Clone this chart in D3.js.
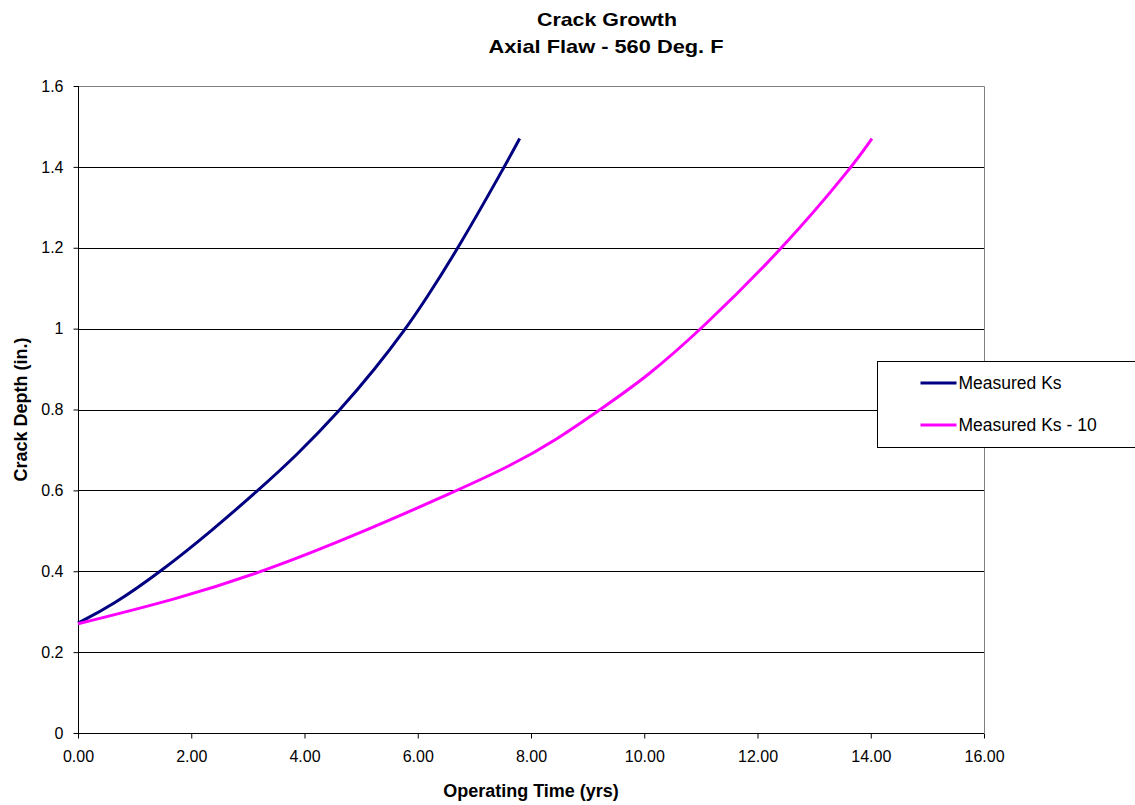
<!DOCTYPE html>
<html>
<head>
<meta charset="utf-8">
<script src="https://cdn.jsdelivr.net/npm/d3@7"></script>
<style>
    body { margin: 0; background: #fff; }
    svg { display: block; font-family: Arial, "Liberation Sans", sans-serif; }
</style>
</head>
<body>
<div class="content"></div>
<script>
// chart data
var seriesNames = ["Measured Ks", "Measured Ks - 10"];
var seriesColors = ["#000080", "#ff00ff"];
var ksYears = [0, 0.6, 1.47, 2.36, 3.18, 3.85, 4.64, 5.245, 5.79, 6.13, 6.72, 7.53, 7.8];
var ksDepth = [0.272, 0.315, 0.40, 0.50, 0.60, 0.685, 0.80, 0.90, 1.00, 1.07, 1.20, 1.40, 1.47];
var ks10Years = [0, 1.77, 3.3, 5.0, 6.7, 7.63, 8.45, 9.22, 10.04, 11.02, 12.46, 13.67, 14.02];
var ks10Depth = [0.27, 0.332, 0.40, 0.495, 0.60, 0.66, 0.725, 0.80, 0.88, 1.00, 1.20, 1.40, 1.47];
var xTicks = [0, 2, 4, 6, 8, 10, 12, 14, 16];
var yTicks = [0, 0.2, 0.4, 0.6, 0.8, 1, 1.2, 1.4, 1.6];

(function () {
    'use strict';
    var width = 1135, height = 805,
        plot = {left: 78, right: 984, top: 86, bottom: 733},
        svg, x, y, line, series, legend;

    svg = d3.select(".content").append("svg")
        .attr("width", width)
        .attr("height", height);

    x = d3.scaleLinear().domain([0, 16]).range([plot.left, plot.right]);
    y = d3.scaleLinear().domain([0, 1.6]).range([plot.bottom, plot.top]);

    // gridlines
    svg.append("g").selectAll("line")
        .data(yTicks.filter(function (d) { return d > 0 && d < 1.6; }))
        .enter().append("line")
        .attr("x1", plot.left).attr("x2", plot.right)
        .attr("y1", function (d) { return Math.round(y(d)) + 0.5; })
        .attr("y2", function (d) { return Math.round(y(d)) + 0.5; })
        .attr("stroke", "#000").attr("stroke-width", 1);

    // top and right border
    svg.append("path")
        .attr("d", "M" + plot.left + "," + (plot.top + 0.5) + "H" + (plot.right + 0.5) + "V" + plot.bottom)
        .attr("fill", "none").attr("stroke", "#808080");

    // axes
    svg.append("g")
        .attr("transform", "translate(0," + (plot.bottom + 0.5) + ")")
        .call(d3.axisBottom(x).tickValues(xTicks).tickSize(5).tickPadding(12)
            .tickFormat(d3.format(".2f")))
        .call(function (g) {
            g.select(".domain").attr("stroke", "#000").attr("d", "M" + plot.left + ",0H" + plot.right);
            g.selectAll(".tick line").attr("stroke", "#000");
            g.selectAll("text").attr("font-size", "16px").attr("fill", "#000")
                .attr("font-family", "Arial, 'Liberation Sans', sans-serif");
        });

    svg.append("g")
        .attr("transform", "translate(" + (plot.left + 0.5) + ",0)")
        .call(d3.axisLeft(y).tickValues(yTicks).tickSize(5).tickPadding(10)
            .tickFormat(function (d) { return d3.format("")(+d.toFixed(1)); }))
        .call(function (g) {
            g.select(".domain").attr("stroke", "#000").attr("d", "M0," + plot.top + "V" + plot.bottom);
            g.selectAll(".tick line").attr("stroke", "#000");
            g.selectAll("text").attr("font-size", "16px").attr("fill", "#000")
                .attr("font-family", "Arial, 'Liberation Sans', sans-serif");
        });

    // series
    series = [
        {name: seriesNames[0], color: seriesColors[0], values: d3.zip(ksYears, ksDepth)},
        {name: seriesNames[1], color: seriesColors[1], values: d3.zip(ks10Years, ks10Depth)}
    ];

    line = d3.line()
        .x(function (d) { return x(d[0]); })
        .y(function (d) { return y(d[1]); })
        .curve(d3.curveBasis);

    svg.append("g").selectAll("path")
        .data(series)
        .enter().append("path")
        .attr("d", function (d) { return line(d.values); })
        .attr("fill", "none")
        .attr("stroke", function (d) { return d.color; })
        .attr("stroke-width", 3)
        .attr("stroke-linejoin", "round");

    // titles
    svg.append("text")
        .attr("x", 607).attr("y", 26)
        .attr("text-anchor", "middle")
        .attr("font-size", "19px").attr("font-weight", "bold")
        .attr("textLength", 140).attr("lengthAdjust", "spacingAndGlyphs")
        .text("Crack Growth");
    svg.append("text")
        .attr("x", 606).attr("y", 53)
        .attr("text-anchor", "middle")
        .attr("font-size", "19px").attr("font-weight", "bold")
        .attr("textLength", 235).attr("lengthAdjust", "spacingAndGlyphs")
        .text("Axial Flaw - 560 Deg. F");

    svg.append("text")
        .attr("x", 531).attr("y", 797)
        .attr("text-anchor", "middle")
        .attr("font-size", "18px").attr("font-weight", "bold")
        .text("Operating Time (yrs)");

    svg.append("text")
        .attr("transform", "translate(27," + (plot.top + plot.bottom) / 2 + ") rotate(-90)")
        .attr("text-anchor", "middle")
        .attr("font-size", "18px").attr("font-weight", "bold")
        .text("Crack Depth (in.)");

    // legend
    legend = svg.append("g").attr("transform", "translate(877.5,361.5)");
    legend.append("rect")
        .attr("width", 280).attr("height", 86)
        .attr("fill", "#fff").attr("stroke", "#000");
    legend.selectAll("g.item")
        .data(series)
        .enter().append("g")
        .attr("class", "item")
        .attr("transform", function (d, i) { return "translate(0," + (21.5 + i * 42) + ")"; })
        .each(function (d) {
            var g = d3.select(this);
            g.append("line")
                .attr("x1", 43).attr("x2", 79)
                .attr("stroke", d.color).attr("stroke-width", 3);
            g.append("text")
                .attr("x", 81).attr("y", 6)
                .attr("font-size", "17.5px")
                .text(d.name);
        });
}());
</script>
</body>
</html>
